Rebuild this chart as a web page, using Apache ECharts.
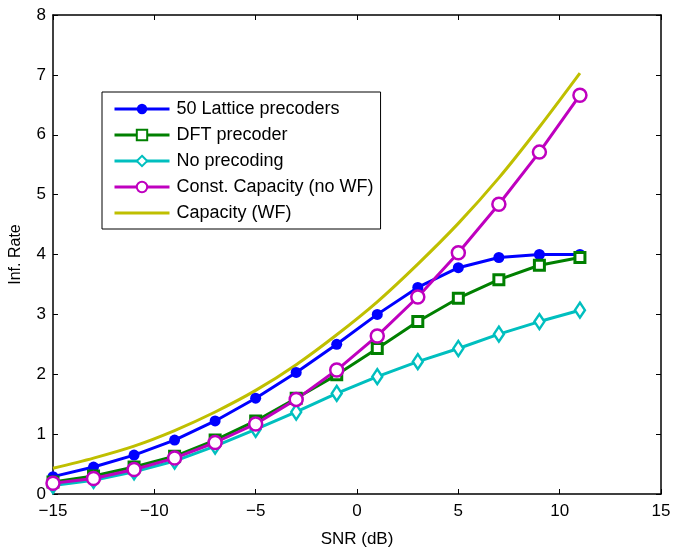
<!DOCTYPE html>
<html>
<head>
<meta charset="utf-8">
<script src="https://cdn.jsdelivr.net/npm/echarts@6/dist/echarts.min.js"></script>
<style>
html,body{margin:0;padding:0;background:#fff;}
#chart{width:673px;height:547px;}
</style>
</head>
<body>
<div id="chart"></div>
<script>
var snr = [-15, -13, -11, -9, -7, -5, -3, -1, 1, 3, 5, 7, 9, 11];
var lattice = [0.29, 0.45, 0.65, 0.90, 1.22, 1.60, 2.03, 2.50, 3.00, 3.45, 3.78, 3.95, 4.00, 4.00];
var dft = [0.20, 0.30, 0.45, 0.63, 0.90, 1.22, 1.60, 1.99, 2.43, 2.88, 3.27, 3.58, 3.82, 3.95];
var noPrec = [0.14, 0.23, 0.37, 0.55, 0.80, 1.08, 1.37, 1.68, 1.96, 2.21, 2.43, 2.67, 2.88, 3.07];
var constCap = [0.18, 0.26, 0.41, 0.60, 0.86, 1.17, 1.58, 2.07, 2.64, 3.29, 4.03, 4.84, 5.71, 6.66];
var capWF = [0.43, 0.60, 0.80, 1.06, 1.37, 1.73, 2.16, 2.66, 3.21, 3.84, 4.52, 5.28, 6.13, 7.03];
var seriesNames = ['50 Lattice precoders', 'DFT precoder', 'No precoding', 'Const. Capacity (no WF)', 'Capacity (WF)'];
var xTicks = [-15, -10, -5, 0, 5, 10, 15];
var yTicks = [0, 1, 2, 3, 4, 5, 6, 7, 8];

function pairs(ys) { return snr.map(function (x, i) { return [x, ys[i]]; }); }

var font = 'Liberation Sans, Arial, Helvetica, sans-serif';
var blue = '#0000ff', green = '#008000', cyan = '#00bfbf', magenta = '#bf00bf', olive = '#bfbf00';

var chart = echarts.init(document.getElementById('chart'), null, {renderer: 'canvas'});
var axisLine = {show: true, onZero: false, lineStyle: {color: '#000', width: 1.5}};
var minusFmt = function (v) { return String(v).replace('-', '\u2212'); };

var legendData = seriesNames.map(function (n, i) {
  var d = {name: n, lineStyle: {width: 3}};
  if (i === 4) d.itemStyle = {opacity: 0};
  return d;
});

chart.setOption({
  animation: false,
  backgroundColor: '#fff',
  grid: {left: 53, right: 12, top: 15, bottom: 53, containLabel: false, outerBoundsMode: 'none'},
  legend: {
    orient: 'vertical',
    left: 102, top: 92,
    backgroundColor: '#fff',
    borderColor: '#000', borderWidth: 1,
    padding: [7, 7, 6, 11],
    itemWidth: 55, itemHeight: 13,
    itemGap: 6,
    textStyle: {fontFamily: font, fontSize: 18, color: '#000', lineHeight: 20, padding: [0, 0, 0, 2]},
    data: legendData
  },
  xAxis: [{
    type: 'value', min: -15, max: 15, interval: 5,
    name: 'SNR (dB)', nameLocation: 'middle', nameGap: 37,
    nameTextStyle: {fontFamily: font, fontSize: 17, color: '#000'},
    axisLine: axisLine,
    axisTick: {show: true, inside: true, length: 5, lineStyle: {color: '#000'}},
    axisLabel: {fontFamily: font, fontSize: 17, color: '#000', margin: 9, formatter: minusFmt},
    splitLine: {show: false}
  }, {
    type: 'value', min: -15, max: 15, interval: 5, position: 'top',
    axisLine: axisLine,
    axisTick: {show: true, inside: true, length: 5, lineStyle: {color: '#000'}},
    axisLabel: {show: false},
    splitLine: {show: false}
  }],
  yAxis: [{
    type: 'value', min: 0, max: 8, interval: 1,
    name: 'Inf. Rate', nameLocation: 'middle', nameGap: 29, nameRotate: 90,
    nameTextStyle: {fontFamily: font, fontSize: 16, color: '#000'},
    axisLine: axisLine,
    axisTick: {show: true, inside: true, length: 5, lineStyle: {color: '#000'}},
    axisLabel: {fontFamily: font, fontSize: 17, color: '#000', margin: 7},
    splitLine: {show: false}
  }, {
    type: 'value', min: 0, max: 8, interval: 1, position: 'right',
    axisLine: axisLine,
    axisTick: {show: true, inside: true, length: 5, lineStyle: {color: '#000'}},
    axisLabel: {show: false},
    splitLine: {show: false}
  }],
  series: [{
    name: seriesNames[0], type: 'line', data: pairs(lattice),
    symbol: 'circle', symbolSize: 11,
    lineStyle: {color: blue, width: 3},
    itemStyle: {color: blue}
  }, {
    name: seriesNames[1], type: 'line', data: pairs(dft),
    symbol: 'rect', symbolSize: 10,
    lineStyle: {color: green, width: 3},
    itemStyle: {color: '#fff', borderColor: green, borderWidth: 3}
  }, {
    name: seriesNames[2], type: 'line', data: pairs(noPrec),
    symbol: 'diamond', symbolSize: [10, 15],
    lineStyle: {color: cyan, width: 3},
    itemStyle: {color: '#fff', borderColor: cyan, borderWidth: 2.5}
  }, {
    name: seriesNames[3], type: 'line', data: pairs(constCap),
    symbol: 'circle', symbolSize: 13,
    lineStyle: {color: magenta, width: 3},
    itemStyle: {color: '#fff', borderColor: magenta, borderWidth: 2.5}
  }, {
    name: seriesNames[4], type: 'line', data: pairs(capWF),
    symbol: 'none', smooth: 0.3,
    lineStyle: {color: olive, width: 3},
    itemStyle: {color: olive}
  }]
});
</script>
</body>
</html>
